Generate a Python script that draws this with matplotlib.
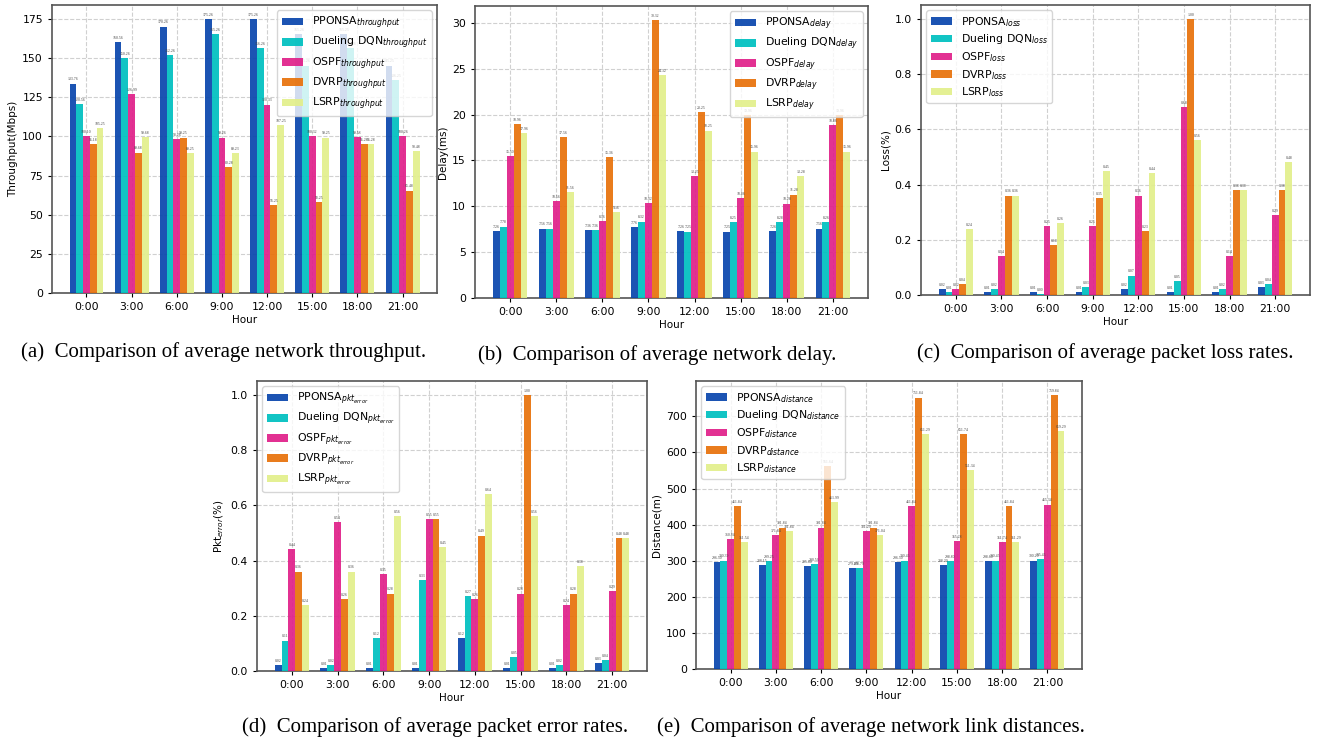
import matplotlib
matplotlib.use("Agg")
import matplotlib.pyplot as plt
import numpy as np

hours = ['0:00', '3:00', '6:00', '9:00', '12:00', '15:00', '18:00', '21:00']
methods = ['PPONSA', 'Dueling DQN', 'OSPF', 'DVRP', 'LSRP']
colors = ['#0a47ad', '#00c0c0', '#e0218a', '#e8720c', '#e2ef8c']

# Throughput (Mbps)
pponsa_tp = [133.76, 160.56, 170.26, 175.26, 175.26, 165.26, 165.25, 145.25]
dueling_tp = [120.56, 150.26, 152.26, 165.26, 156.26, 145.26, 156.26, 136.25]
ospf_tp = [100.10, 126.99, 98.26, 99.26, 120.33, 100.32, 99.58, 100.26]
dvrp_tp = [95.18, 89.68, 99.25, 80.28, 56.25, 58.25, 95.28, 65.48]
lsrp_tp = [105.25, 99.68, 89.25, 89.23, 107.25, 99.25, 95.28, 90.48]

# Delay (ms)
pponsa_d = [7.26, 7.56, 7.36, 7.76, 7.26, 7.25, 7.26, 7.56]
dueling_d = [7.78, 7.56, 7.36, 8.32, 7.25, 8.25, 8.28, 8.26]
ospf_d = [15.50, 10.56, 8.36, 10.32, 13.25, 10.86, 10.28, 18.86]
dvrp_d = [18.96, 17.56, 15.36, 30.32, 20.25, 19.96, 11.28, 19.96]
lsrp_d = [17.96, 11.56, 9.36, 24.32, 18.25, 15.96, 13.28, 15.96]

# Loss (%)
pponsa_l = [0.02, 0.01, 0.01, 0.01, 0.02, 0.01, 0.01, 0.03]
dueling_l = [0.01, 0.02, 0.004, 0.03, 0.07, 0.05, 0.02, 0.04]
ospf_l = [0.02, 0.14, 0.25, 0.25, 0.36, 0.68, 0.14, 0.29]
dvrp_l = [0.04, 0.36, 0.18, 0.35, 0.23, 1.00, 0.38, 0.38]
lsrp_l = [0.24, 0.36, 0.26, 0.45, 0.44, 0.56, 0.38, 0.48]

# Packet error (%)
pponsa_e = [0.02, 0.01, 0.01, 0.01, 0.12, 0.01, 0.01, 0.03]
dueling_e = [0.11, 0.02, 0.12, 0.33, 0.27, 0.05, 0.02, 0.04]
ospf_e = [0.44, 0.54, 0.35, 0.55, 0.26, 0.28, 0.24, 0.29]
dvrp_e = [0.36, 0.26, 0.28, 0.55, 0.49, 1.00, 0.28, 0.48]
lsrp_e = [0.24, 0.36, 0.56, 0.45, 0.64, 0.56, 0.38, 0.48]

# Distance (m)
pponsa_ds = [296.50, 288.15, 285.60, 279.80, 296.50, 288.20, 298.60, 300.20]
dueling_ds = [300.39, 299.25, 290.56, 278.79, 300.45, 298.80, 300.45, 305.45]
ospf_ds = [360.84, 371.84, 391.84, 381.29, 451.84, 355.28, 351.74, 455.34]
dvrp_ds = [451.84, 391.84, 561.64, 391.84, 751.84, 651.74, 451.84, 759.84]
lsrp_ds = [351.54, 381.84, 461.99, 371.04, 651.29, 551.34, 351.29, 659.29]

panels = [
    dict(data=[pponsa_tp, dueling_tp, ospf_tp, dvrp_tp, lsrp_tp], sub='throughput',
         ylabel='Throughput(Mbps)', loc='upper right', yticks=np.arange(0, 176, 25),
         rect=[52, 5, 437, 293],
         caption='(a)  Comparison of average network throughput.', cap=(224, 352)),
    dict(data=[pponsa_d, dueling_d, ospf_d, dvrp_d, lsrp_d], sub='delay',
         ylabel='Delay(ms)', loc='upper right', yticks=np.arange(0, 31, 5),
         rect=[475, 6, 868, 298],
         caption='(b)  Comparison of average network delay.', cap=(657, 355)),
    dict(data=[pponsa_l, dueling_l, ospf_l, dvrp_l, lsrp_l], sub='loss',
         ylabel='Loss(%)', loc='upper left', yticks=np.arange(0, 1.01, 0.2),
         rect=[921, 5, 1310, 295],
         caption='(c)  Comparison of average packet loss rates.', cap=(1105, 353)),
    dict(data=[pponsa_e, dueling_e, ospf_e, dvrp_e, lsrp_e], sub='pkt_{error}',
         ylabel='Pkt$_{error}$(%)', loc='upper left', yticks=np.arange(0, 1.01, 0.2),
         rect=[257, 381, 647, 671],
         caption='(d)  Comparison of average packet error rates.', cap=(435, 727)),
    dict(data=[pponsa_ds, dueling_ds, ospf_ds, dvrp_ds, lsrp_ds], sub='distance',
         ylabel='Distance(m)', loc='upper left', yticks=np.arange(0, 701, 100),
         rect=[696, 381, 1082, 669],
         caption='(e)  Comparison of average network link distances.', cap=(871, 727)),
]

W, H = 1318, 743
fig = plt.figure(figsize=(W / 100, H / 100), dpi=100)

x = np.arange(len(hours))
width = 0.15

for p in panels:
    l, t, r, b = p['rect']
    ax = fig.add_axes([l / W, 1 - b / H, (r - l) / W, (b - t) / H])
    ymax = max(max(s) for s in p['data'])
    for j, (m, vals, c) in enumerate(zip(methods, p['data'], colors)):
        pos = x + (j - 2) * width
        ax.bar(pos, vals, width, color=c, alpha=0.93, zorder=3,
               label=m + '$_{' + p['sub'] + '}$')
        for bx, v in zip(pos, vals):
            ax.text(bx, v + ymax * 0.008, f'{v:.2f}', ha='center', va='bottom',
                    fontsize=2.8, family='Liberation Serif', color='#444444', zorder=4)
    ax.set_ylim(0, ymax * 1.05)
    ax.set_xticks(x)
    ax.set_xticklabels(hours)
    ax.set_yticks(p['yticks'])
    ax.tick_params(labelsize=7.8, length=3, width=0.8)
    ax.set_xlabel('Hour', fontsize=7.5, labelpad=2)
    ax.set_ylabel(p['ylabel'], fontsize=7.5, labelpad=3)
    ax.grid(True, linestyle='--', color='#d0d0d0', linewidth=0.8, zorder=0)
    ax.set_axisbelow(True)
    for s in ax.spines.values():
        s.set_color('#555555')
        s.set_linewidth(1.2)
    ax.legend(loc=p['loc'], fontsize=7.8, framealpha=0.8, labelspacing=0.35)
    fig.text(p['cap'][0] / W, 1 - p['cap'][1] / H, p['caption'], ha='center', va='center',
             fontsize=15, family='Liberation Serif')

fig.savefig('out.png', dpi=100)
